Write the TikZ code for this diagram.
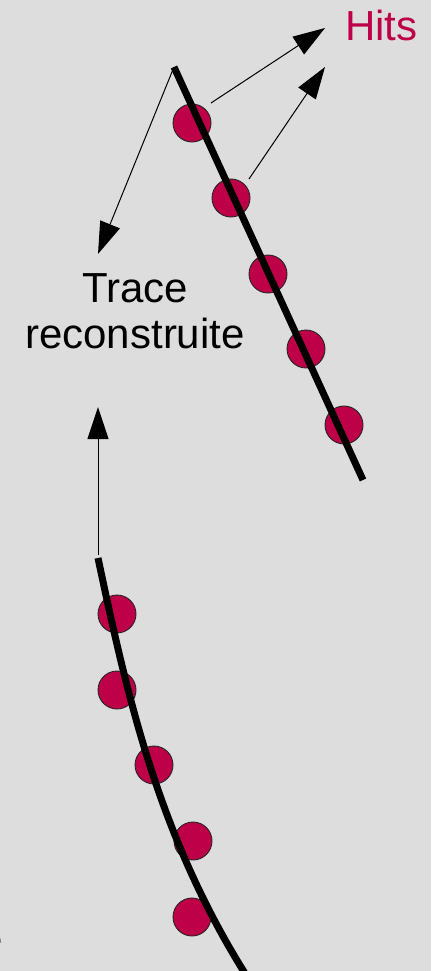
\documentclass[tikz,border=0pt]{standalone}
\usepackage{fontspec}
\setmainfont{Liberation Sans}
\usetikzlibrary{arrows.meta}
\definecolor{bgc}{RGB}{221,221,221}
\definecolor{hitc}{RGB}{189,0,71}
\tikzset{
  hit/.style={circle, minimum size=38pt, inner sep=0pt, fill=hitc, draw=black!85, line width=0.9pt},
  track/.style={line width=7pt, black, line cap=butt},
  pointer/.style={line width=1pt, black, -{Triangle[length=32pt,width=21pt]}},
  lbl/.style={inner sep=0pt, font=\fontsize{42}{46}\selectfont}
}
\begin{document}
\begin{tikzpicture}[x=1pt,y=-1pt]
\useasboundingbox (0,0) rectangle (431,971);
\fill[bgc] (0,0) rectangle (431,971);
% cut-off glyph at the left edge
\node[lbl, anchor=base west] (frag) at (-21,953) {e};
% top track hits
\node[hit] (a1) at (192,123) {};
\node[hit] (a2) at (231,198) {};
\node[hit] (a3) at (268,274) {};
\node[hit] (a4) at (306,349) {};
\node[hit] (a5) at (344,425) {};
% bottom track hits
\node[hit] (b1) at (117,614) {};
\node[hit] (b2) at (117,690) {};
\node[hit] (b3) at (154,765) {};
\node[hit] (b4) at (193,841) {};
\node[hit] (b5) at (192,917) {};
% tracks
\coordinate (ta) at (174,67);
\coordinate (tb) at (363,480);
\draw[track] (ta) -- (tb);
\coordinate (ba) at (98,558);
\coordinate (bc1) at (127,695);
\coordinate (bc2) at (158,835);
\coordinate (bb) at (246,975);
\draw[track] (ba) .. controls (bc1) and (bc2) .. (bb);
% labels
\node[lbl, text=hitc, anchor=base west] (hits) at (345,41) {Hits};
\node[lbl, anchor=base] (trace1) at (135,302) {Trace};
\node[lbl, anchor=base] (trace2) at (135,348) {reconstruite};
% pointers
\coordinate (p1s) at (211,103);
\coordinate (p1e) at (325,28);
\coordinate (p2s) at (249,179);
\coordinate (p2e) at (325,67);
\coordinate (p3e) at (98,254);
\coordinate (p4s) at (98,555);
\coordinate (p4e) at (98,407);
\draw[pointer] (p1s) -- (p1e);
\draw[pointer] (p2s) -- (p2e);
\draw[pointer] (ta) -- (p3e);
\draw[pointer] (p4s) -- (p4e);
\end{tikzpicture}
\end{document}
